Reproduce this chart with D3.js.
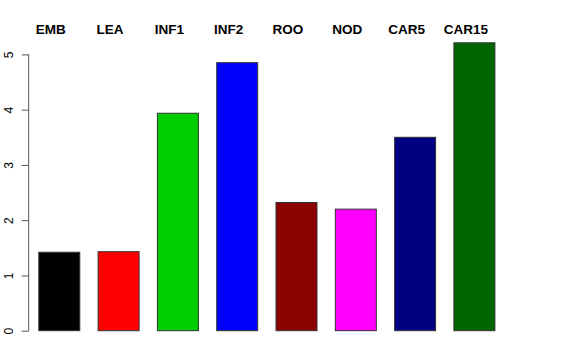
<!DOCTYPE html>
<html><head><meta charset="utf-8">
<script src="https://cdn.jsdelivr.net/npm/d3@7"></script>
<style>html,body{margin:0;padding:0;background:#fff;}svg{display:block;}</style>
</head><body>
<svg id="chart" width="576" height="360"></svg>
<script>
const categories = ["EMB","LEA","INF1","INF2","ROO","NOD","CAR5","CAR15"];
const values = [1.42, 1.43, 3.935, 4.85, 2.32, 2.20, 3.50, 5.21];
const colors = ["#000000","#FF0000","#00CD00","#0000FF","#8B0000","#FF00FF","#000080","#006400"];
const yTicks = [0,1,2,3,4,5];

const svg = d3.select("#chart");
const x = d3.scaleBand().domain(categories).range([38.3, 495.4]).paddingInner(0.292).paddingOuter(0);
const y = d3.scaleLinear().domain([0,5]).range([330.7, 54.4]);

svg.append("g").selectAll("rect").data(categories).join("rect")
  .attr("x", d => x(d)+0.5)
  .attr("y", (d,i) => y(values[i]))
  .attr("width", x.bandwidth()-1)
  .attr("height", (d,i) => y(0)-y(values[i]))
  .attr("fill", (d,i) => colors[i])
  .attr("stroke", "#333")
  .attr("stroke-width", 1);

const axis = d3.axisLeft(y).tickValues(yTicks).tickSize(7).tickPadding(4).tickFormat(d3.format("d"));
const gA = svg.append("g").attr("transform","translate(28.7,0)").call(axis);
gA.select(".domain").attr("stroke","#555").attr("d", `M0,${y(0)}V${y(5)}`);
gA.selectAll(".tick line").attr("stroke","#555");
gA.selectAll(".tick text")
  .attr("font-family","Liberation Sans, Arial, sans-serif")
  .attr("font-size", 12)
  .attr("fill","#000")
  .attr("text-anchor","middle")
  .attr("x", 0).attr("dy", 0)
  .attr("transform", d => `translate(-19.5,0) rotate(-90)`)
  .attr("y", 0).attr("dominant-baseline","central");

svg.append("g").selectAll("text").data(categories).join("text")
  .attr("x", d => x(d) + x.bandwidth()/2 - 8.5)
  .attr("y", 34)
  .attr("text-anchor","middle")
  .attr("font-family","Liberation Sans, Arial, sans-serif")
  .attr("font-weight","bold")
  .attr("font-size", 13.5)
  .attr("fill","#000")
  .text(d => d);
</script>
</body></html>
